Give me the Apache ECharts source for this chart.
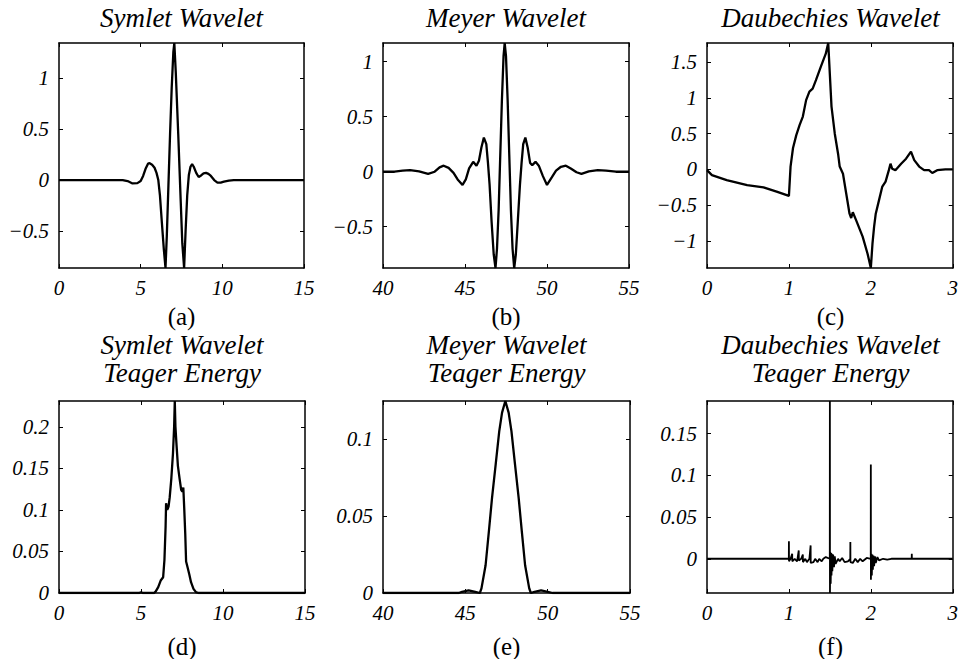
<!DOCTYPE html>
<html><head><meta charset="utf-8">
<script src="https://cdn.jsdelivr.net/npm/echarts@6/dist/echarts.min.js"></script>
<style>html,body{margin:0;padding:0;background:#fff}#c{width:961px;height:659px}</style>
</head><body><div id="c"></div>
<script>
// ---- Data ----
const symlet = [[0,0],[3.9,0],[4.2,-0.01],[4.5,-0.033],[4.8,-0.03],[5.0,-0.01],[5.15,0.04],[5.3,0.11],[5.45,0.16],[5.55,0.165],[5.7,0.15],[5.85,0.12],[5.97,0.07],[6.08,0.0],[6.18,-0.15],[6.3,-0.42],[6.42,-0.68],[6.52,-0.86],[6.6,-0.55],[6.7,-0.05],[6.8,0.45],[6.9,0.9],[7.0,1.25],[7.06,1.34],[7.15,1.05],[7.3,0.45],[7.45,-0.2],[7.55,-0.62],[7.66,-0.86],[7.75,-0.5],[7.85,-0.15],[7.95,0.05],[8.05,0.13],[8.15,0.155],[8.25,0.13],[8.4,0.07],[8.55,0.03],[8.7,0.045],[8.85,0.065],[9.0,0.07],[9.15,0.06],[9.3,0.04],[9.5,0.0],[9.7,-0.025],[9.9,-0.025],[10.1,-0.015],[10.4,-0.005],[10.7,0],[15,0]];
const meyer = [[40,0],[40.7,0],[41.2,0.01],[41.65,0.015],[42.2,0.003],[42.75,-0.02],[43.15,0],[43.45,0.04],[43.7,0.055],[44.0,0.035],[44.3,-0.01],[44.55,-0.07],[44.85,-0.12],[45.05,-0.07],[45.25,0.03],[45.5,0.09],[45.7,0.055],[45.85,0.1],[46.0,0.22],[46.15,0.31],[46.3,0.25],[46.4,0.08],[46.5,-0.12],[46.62,-0.45],[46.75,-0.75],[46.86,-0.875],[46.95,-0.7],[47.05,-0.35],[47.15,0.15],[47.25,0.65],[47.35,1.05],[47.42,1.17],[47.5,1.05],[47.6,0.65],[47.7,0.15],[47.8,-0.35],[47.9,-0.7],[48.0,-0.875],[48.1,-0.75],[48.22,-0.45],[48.35,-0.12],[48.45,0.08],[48.55,0.25],[48.68,0.31],[48.82,0.22],[48.97,0.08],[49.1,0.06],[49.3,0.09],[49.5,0.055],[49.75,-0.04],[50.0,-0.12],[50.3,-0.05],[50.55,0.01],[50.85,0.045],[51.15,0.055],[51.45,0.03],[51.8,-0.005],[52.1,-0.02],[52.55,0.003],[53.1,0.015],[53.6,0.01],[54.2,0],[55,0]];
const daub = [[0,-0.01],[0.06,-0.08],[0.24,-0.15],[0.49,-0.22],[0.69,-0.25],[0.85,-0.31],[1.0,-0.37],[1.02,0.04],[1.05,0.3],[1.09,0.48],[1.13,0.62],[1.17,0.74],[1.21,0.97],[1.25,1.09],[1.29,1.13],[1.33,1.25],[1.39,1.44],[1.45,1.62],[1.48,1.77],[1.52,0.88],[1.56,0.5],[1.6,0.22],[1.62,0.04],[1.66,-0.06],[1.7,-0.34],[1.74,-0.62],[1.76,-0.68],[1.78,-0.6],[1.82,-0.71],[1.9,-0.94],[1.96,-1.18],[2.0,-1.38],[2.02,-1.04],[2.04,-0.8],[2.06,-0.62],[2.1,-0.43],[2.14,-0.24],[2.18,-0.17],[2.22,-0.01],[2.24,0.08],[2.26,0.01],[2.3,-0.01],[2.37,0.08],[2.43,0.15],[2.49,0.25],[2.53,0.13],[2.59,0.04],[2.65,-0.01],[2.71,-0.01],[2.75,-0.05],[2.81,-0.01],[2.91,0],[3,0]];
const symletTE = [[0,0],[4.9,0],[5.0,0.001],[5.1,0],[5.8,0],[5.9,0.002],[6.05,0.007],[6.2,0.015],[6.35,0.019],[6.43,0.04],[6.5,0.08],[6.53,0.108],[6.6,0.1],[6.68,0.104],[6.75,0.115],[6.85,0.138],[6.95,0.168],[7.02,0.2],[7.06,0.231],[7.1,0.2],[7.16,0.18],[7.25,0.153],[7.35,0.138],[7.45,0.124],[7.52,0.122],[7.58,0.127],[7.64,0.1],[7.7,0.07],[7.75,0.038],[7.85,0.03],[7.95,0.022],[8.05,0.013],[8.2,0.005],[8.35,0.001],[8.5,0],[15,0]];
const meyerTE = [[40,0],[44.6,0],[44.8,0.0008],[45.2,0.0017],[45.6,0.0008],[45.88,0],[45.98,0.003],[46.23,0.018],[46.43,0.04],[46.62,0.0615],[46.85,0.084],[47.06,0.105],[47.23,0.117],[47.43,0.1245],[47.63,0.117],[47.8,0.105],[48.01,0.084],[48.24,0.0615],[48.43,0.04],[48.63,0.018],[48.88,0.003],[48.98,0],[49.2,0.0008],[49.6,0.0017],[50.0,0.0008],[50.3,0],[55,0]];
const daubTE = [[0,0],[0.999,0],[1.0,0.021],[1.001,-0.003],[1.02,0],[1.04,0.006],[1.041,-0.003],[1.07,0],[1.1,-0.003],[1.12,0.01],[1.121,-0.002],[1.15,0],[1.17,0.005],[1.171,-0.004],[1.2,0],[1.22,-0.004],[1.25,0],[1.265,0.016],[1.266,-0.005],[1.3,-0.004],[1.32,0],[1.35,-0.004],[1.37,0],[1.4,-0.003],[1.42,0],[1.45,0.002],[1.499,0],[1.5,0.189],[1.501,-0.041],[1.505,0.008],[1.51,-0.03],[1.515,0.007],[1.52,-0.02],[1.525,0.006],[1.53,-0.015],[1.54,0.005],[1.55,-0.01],[1.56,0.003],[1.57,-0.006],[1.6,0],[1.62,-0.003],[1.65,0.001],[1.68,-0.004],[1.72,-0.003],[1.749,0],[1.75,0.02],[1.751,-0.004],[1.78,-0.005],[1.81,0],[1.84,-0.004],[1.87,0],[1.9,-0.003],[1.95,0.001],[1.999,0],[2.0,0.113],[2.001,-0.025],[2.006,0.006],[2.012,-0.02],[2.018,0.005],[2.025,-0.013],[2.032,0.004],[2.04,-0.009],[2.05,0.003],[2.06,-0.005],[2.08,0.002],[2.1,-0.002],[2.15,0],[2.2,-0.001],[2.25,0],[2.499,0],[2.5,0.006],[2.501,0],[3,0]];

const titles = ['Symlet Wavelet','Meyer Wavelet','Daubechies Wavelet','Symlet Wavelet\nTeager Energy','Meyer Wavelet\nTeager Energy','Daubechies Wavelet\nTeager Energy'];
const panelLabels = ['(a)','(b)','(c)','(d)','(e)','(f)'];
const xRanges = [[0,15],[40,55],[0,3],[0,15],[40,55],[0,3]];
const yRanges = [[-0.86,1.34],[-0.875,1.17],[-1.38,1.77],[0,0.231],[0,0.1245],[-0.041,0.189]];
const xTicks = [[0,5,10,15],[40,45,50,55],[0,1,2,3],[0,5,10,15],[40,45,50,55],[0,1,2,3]];
const yTicks = [[-0.5,0,0.5,1],[-0.5,0,0.5,1],[-1,-0.5,0,0.5,1,1.5],[0,0.05,0.1,0.15,0.2],[0,0.05,0.1],[0,0.05,0.1,0.15]];
const seriesData = [symlet, meyer, daub, symletTE, meyerTE, daubTE];

// ---- Layout ----
const boxes = [
  {left:59, top:43, width:245, height:225},
  {left:383, top:43, width:246, height:225},
  {left:707, top:43, width:247, height:225},
  {left:59, top:401, width:246, height:192},
  {left:383, top:401, width:247, height:192},
  {left:707, top:401, width:247, height:192}
];
const SERIF = 'Liberation Serif';
const fmt = v => String(v).replace('-', '\u2212');

const grid = [], xAxis = [], yAxis = [], series = [], graphic = [];
boxes.forEach((b, i) => {
  grid.push(Object.assign({containLabel:false}, b));
  const lineStyle = {color:'#000', width:1.5};
  const tick = (vals) => ({show:true, inside:true, length:4, lineStyle:{color:'#000', width:1}, customValues: vals});
  xAxis.push({type:'value', gridIndex:i, min:xRanges[i][0], max:xRanges[i][1], position:'bottom',
    axisLine:{show:true, onZero:false, lineStyle}, axisTick:tick(xTicks[i]), splitLine:{show:false},
    axisLabel:{show:true, customValues:xTicks[i], formatter:fmt, margin:9, color:'#000', fontFamily:SERIF, fontStyle:'italic', fontSize:21}});
  xAxis.push({type:'value', gridIndex:i, min:xRanges[i][0], max:xRanges[i][1], position:'top',
    axisLine:{show:true, onZero:false, lineStyle}, axisTick:tick(xTicks[i]), splitLine:{show:false}, axisLabel:{show:false}});
  yAxis.push({type:'value', gridIndex:i, min:yRanges[i][0], max:yRanges[i][1], position:'left',
    axisLine:{show:true, onZero:false, lineStyle}, axisTick:tick(yTicks[i]), splitLine:{show:false},
    axisLabel:{show:true, customValues:yTicks[i], formatter:fmt, margin:10, color:'#000', fontFamily:SERIF, fontStyle:'italic', fontSize:21}});
  yAxis.push({type:'value', gridIndex:i, min:yRanges[i][0], max:yRanges[i][1], position:'right',
    axisLine:{show:true, onZero:false, lineStyle}, axisTick:tick(yTicks[i]), splitLine:{show:false}, axisLabel:{show:false}});
  series.push({type:'line', xAxisIndex:2*i, yAxisIndex:2*i, data:seriesData[i], showSymbol:false, symbol:'none',
    lineStyle:{color:'#000', width: i===5 ? 1.8 : 2.3}, clip:true, animation:false});
  const cx = b.left + b.width/2;
  const top = i < 3;
  graphic.push({type:'text', x:cx, y: top ? 18 : 359, style:{text:titles[i], align:'center', verticalAlign:'middle',
    fontFamily:SERIF, fontStyle:'italic', fontSize:27, lineHeight:28, fill:'#000'}});
  graphic.push({type:'text', x:cx, y: top ? 316 : 646, style:{text:panelLabels[i], align:'center', verticalAlign:'middle',
    fontFamily:SERIF, fontSize:25, fill:'#000'}});
});

const chart = echarts.init(document.getElementById('c'), null, {renderer:'svg'});
chart.setOption({backgroundColor:'#fff', animation:false, grid, xAxis, yAxis, series, graphic});
</script>
</body></html>
